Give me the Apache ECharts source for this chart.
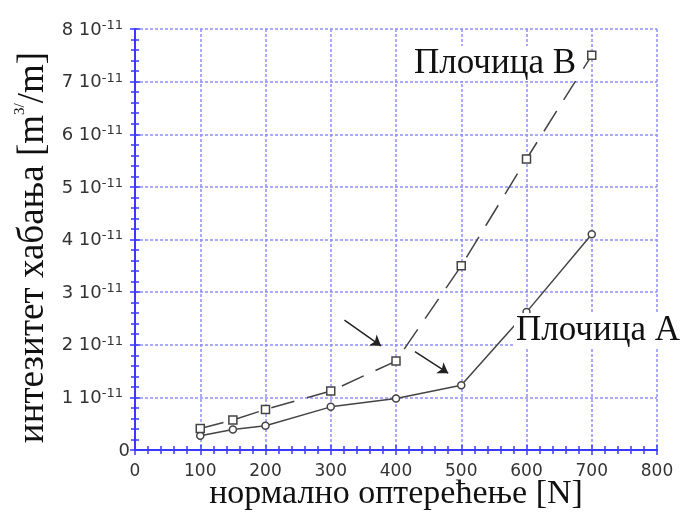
<!DOCTYPE html>
<html><head><meta charset="utf-8">
<script src="https://cdn.jsdelivr.net/npm/echarts@6/dist/echarts.min.js"></script>
<style>html,body{margin:0;padding:0;background:#fff}#c{width:682px;height:514px}</style>
</head><body><div id="c"></div>
<script>
// data (wear intensity in units of 10^-11 m^3/m)
const loads = [100, 150, 200, 300, 400, 500, 600, 700];
const plateA = [0.27, 0.39, 0.46, 0.82, 0.98, 1.23, 2.62, 4.10];
const plateB = [0.41, 0.57, 0.77, 1.12, 1.69, 3.50, 5.53, 7.50];
const xTicks = [0, 100, 200, 300, 400, 500, 600, 700, 800];
const yTickMantissa = ['0', '1', '2', '3', '4', '5', '6', '7', '8'];
const yExponent = '-11';
const seriesNames = ['Плочица A', 'Плочица B'];
const xName = 'нормално оптерећење [N]';
const yNameMain = 'интезитет хабања [m';
const yNameSup = '3/';
const yNameEnd = '/m]';
// arrows (data coordinates)
const arrow1 = [[321, 2.47], [377, 1.98]];
const arrow2 = [[429, 1.87], [480, 1.46]];

const blue = '#3a3aff';
const gridBlue = '#8f8fff';
const ink = '#444';

const chart = echarts.init(document.getElementById('c'));
const baseAxis = {
  axisLine: {show: true, lineStyle: {color: blue, width: 2}},
  axisTick: {show: true, inside: true, length: 5, lineStyle: {color: blue, width: 1.5}},
  minorTick: {show: true, splitNumber: 5, length: 4, lineStyle: {color: blue, width: 1.5}},
};
chart.setOption({
  animation: false,
  grid: {left: 135, right: 25, top: 29, bottom: 64, containLabel: false, outerBoundsMode: 'none'},
  xAxis: [
    Object.assign({}, baseAxis, {
      type: 'value', min: 0, max: 800, interval: 100, position: 'bottom',
      axisLabel: {color: '#333', fontFamily: 'DejaVu Sans', fontSize: 17, margin: 13,
        formatter: v => xTicks.includes(v) ? String(v) : ''},
      splitLine: {show: true, lineStyle: {color: gridBlue, type: [3, 2], width: 1.5}},
      name: xName, nameLocation: 'middle', nameGap: 27, nameMoveOverlap: false,
      nameTextStyle: {fontFamily: 'Liberation Serif', fontSize: 34, color: '#111'}
    }),
    Object.assign({}, baseAxis, {
      type: 'value', min: 0, max: 800, interval: 100, position: 'top',
      axisLabel: {show: false}, splitLine: {show: false}
    })
  ],
  yAxis: [
    Object.assign({}, baseAxis, {
      type: 'value', min: 0, max: 8, interval: 1, position: 'left',
      axisLabel: {
        margin: 5,
        formatter: v => {
          const m = yTickMantissa[Math.round(v)];
          return v === 0 ? '{m|' + m + '}' : '{m|' + m + ' 10}{e|' + yExponent + '}';
        },
        rich: {
          m: {color: '#333', fontFamily: 'DejaVu Sans', fontSize: 18, verticalAlign: 'bottom', lineHeight: 20},
          e: {color: '#333', fontFamily: 'DejaVu Sans', fontSize: 13, verticalAlign: 'top', lineHeight: 20, padding: [0, 7, 9, 0]}
        }
      },
      splitLine: {show: true, lineStyle: {color: gridBlue, type: [3, 2], width: 1.5}},
      name: '{n|' + yNameMain + '}{s|' + yNameSup + '}{t|' + yNameEnd + '}',
      nameLocation: 'middle', nameGap: 82, nameRotate: 90, nameMoveOverlap: false,
      nameTextStyle: {
        rich: {
          n: {fontFamily: 'Liberation Serif', fontSize: 37, color: '#111', lineHeight: 40},
          t: {fontFamily: 'Liberation Serif', fontSize: 37, color: '#111', lineHeight: 40, padding: [0, 16, 0, 0]},
          s: {fontFamily: 'Liberation Serif', fontSize: 15, color: '#111', verticalAlign: 'top', lineHeight: 40, padding: [0, 0, 16, 0]}
        }
      }
    }),
    Object.assign({}, baseAxis, {
      type: 'value', min: 0, max: 8, interval: 1, position: 'right', z: 20,
      axisLabel: {show: false}, splitLine: {show: false}
    })
  ],
  series: [
    {
      name: seriesNames[0], type: 'line',
      data: loads.map((x, i) => [x, plateA[i]]),
      symbol: 'circle', symbolSize: 7, showAllSymbol: true,
      itemStyle: {color: '#fff', borderColor: ink, borderWidth: 1.5},
      lineStyle: {color: ink, width: 1.5},
      z: 5,
      markLine: {
        silent: true, symbol: ['none', 'arrow'], symbolSize: 10,
        label: {show: false},
        lineStyle: {color: '#222', width: 1.5, type: 'solid'},
        data: [
          [{coord: arrow1[0]}, {coord: arrow1[1]}],
          [{coord: arrow2[0]}, {coord: arrow2[1]}]
        ]
      }
    },
    {
      name: seriesNames[1], type: 'line',
      data: loads.map((x, i) => [x, plateB[i]]),
      symbol: 'rect', symbolSize: 8, showAllSymbol: true,
      itemStyle: {color: '#fff', borderColor: ink, borderWidth: 1.5},
      lineStyle: {color: ink, width: 1.5, type: [24, 13]},
      z: 5
    }
  ],
  graphic: [
    {type: 'text', left: 412, top: 46, z: 10,
      style: {text: seriesNames[1], font: '35px "Liberation Serif"', fill: '#111',
        backgroundColor: '#fff', padding: [0, 2, 0, 2]}},
    {type: 'text', left: 514, top: 313, z: 10,
      style: {text: seriesNames[0], font: '35px "Liberation Serif"', fill: '#111',
        backgroundColor: '#fff', padding: [0, 2, 0, 2]}}
  ]
});
</script></body></html>
